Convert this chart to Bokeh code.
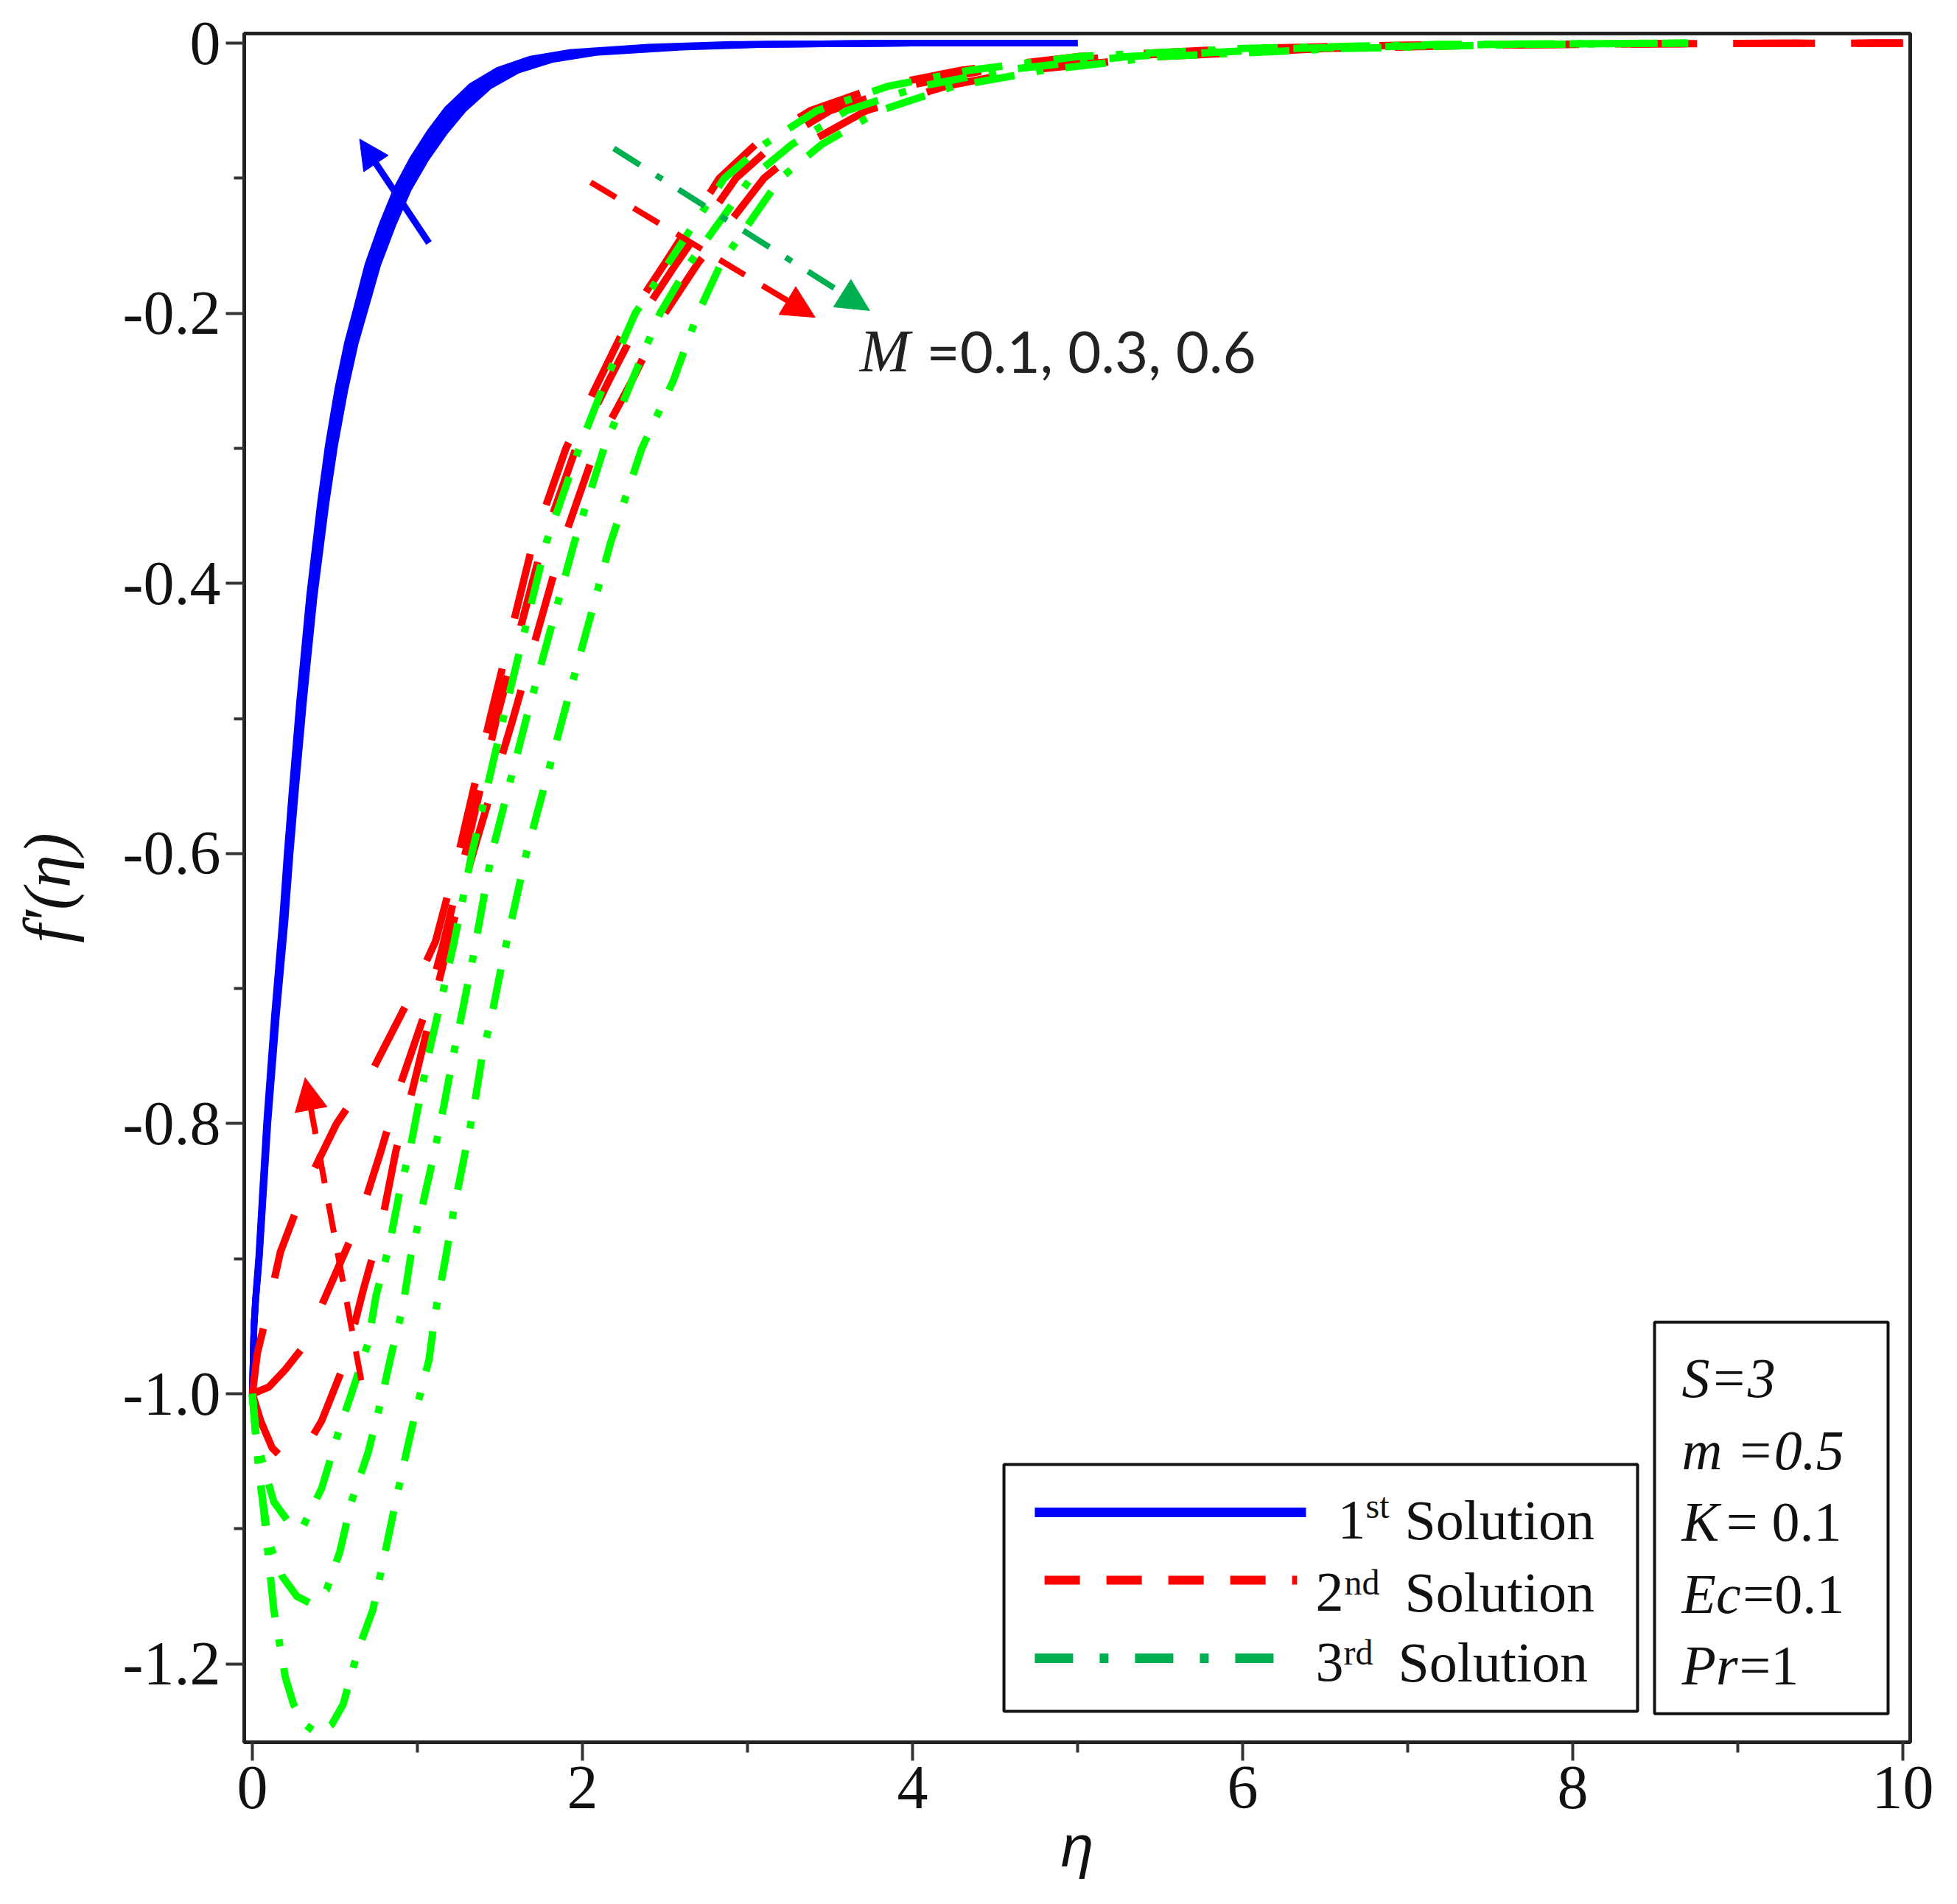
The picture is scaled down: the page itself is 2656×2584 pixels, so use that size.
import math
from bokeh.plotting import figure
from bokeh.models import (Range1d, FixedTicker, CustomJSTickFormatter, Label,
                          BoxAnnotation, Arrow, NormalHead)
from bokeh.embed import file_html
from bokeh.resources import INLINE

# ---------------- data ----------------
# 1st solution (blue), three M values
B1_x = [0, 0.005, 0.01, 0.021, 0.042, 0.068, 0.094, 0.12, 0.146, 0.172, 0.198, 0.229, 0.26, 0.312, 0.374, 0.447, 0.5, 0.562, 0.624, 0.676, 0.76, 0.853, 0.946, 1.05, 1.165, 1.28, 1.435, 1.61, 1.82, 2.08, 2.6, 3.1, 4.0, 5.0]
B2_x = [0, 0.005, 0.01, 0.02, 0.04, 0.065, 0.09, 0.115, 0.14, 0.165, 0.19, 0.22, 0.25, 0.30, 0.36, 0.43, 0.48, 0.54, 0.60, 0.65, 0.73, 0.82, 0.91, 1.01, 1.12, 1.23, 1.38, 1.55, 1.75, 2.0, 2.5, 3.0, 4.0, 5.0]
B3_x = [0, 0.005, 0.0096, 0.019, 0.038, 0.062, 0.086, 0.11, 0.134, 0.158, 0.182, 0.211, 0.24, 0.288, 0.346, 0.413, 0.461, 0.518, 0.576, 0.624, 0.70, 0.787, 0.874, 0.97, 1.075, 1.18, 1.325, 1.49, 1.68, 1.92, 2.4, 2.9, 4.0, 5.0]
B_y = [-1, -0.975, -0.95, -0.93, -0.9, -0.85, -0.8, -0.76, -0.72, -0.685, -0.65, -0.6, -0.555, -0.485, -0.41, -0.34, -0.297, -0.256, -0.222, -0.2, -0.164, -0.134, -0.108, -0.086, -0.066, -0.049, -0.032, -0.02, -0.012, -0.007, -0.003, -0.001, 0, 0]

# 2nd solution (red dashed), three M values
R1_x = [0, 0.03, 0.07, 0.17, 0.31, 0.51, 0.73, 0.94, 1.11, 1.25, 1.44, 1.70, 1.9, 2.1, 2.3, 2.5, 2.83, 3.05, 3.38, 3.8, 4.3, 5.0, 6.0, 7.0, 8.5, 10]
R1_y = [-1, -0.97, -0.95, -0.895, -0.85, -0.80, -0.76, -0.71, -0.665, -0.6, -0.5, -0.37, -0.3, -0.25, -0.2, -0.163, -0.1, -0.075, -0.05, -0.032, -0.02, -0.01, -0.004, -0.0015, -0.0004, 0]
R2_x = [0, 0.1, 0.2, 0.31, 0.49, 0.65, 0.78, 0.9, 1.04, 1.15, 1.29, 1.48, 1.76, 1.96, 2.16, 2.37, 2.57, 2.93, 3.16, 3.5, 3.95, 4.45, 5.2, 6.2, 7.2, 8.5, 10]
R2_y = [-1, -0.995, -0.982, -0.965, -0.915, -0.87, -0.82, -0.77, -0.72, -0.67, -0.6, -0.5, -0.37, -0.3, -0.25, -0.2, -0.163, -0.1, -0.075, -0.05, -0.032, -0.02, -0.01, -0.004, -0.0015, -0.0004, 0]
R3_x = [0, 0.05, 0.12, 0.2, 0.3, 0.42, 0.56, 0.67, 0.78, 0.87, 0.97, 1.1, 1.22, 1.36, 1.58, 1.88, 2.08, 2.3, 2.5, 2.7, 3.1, 3.35, 3.72, 4.2, 4.7, 5.5, 6.5, 7.5, 8.7, 10]
R3_y = [-1, -1.02, -1.04, -1.05, -1.045, -1.02, -0.977, -0.924, -0.876, -0.82, -0.775, -0.71, -0.65, -0.59, -0.5, -0.37, -0.3, -0.25, -0.2, -0.163, -0.1, -0.075, -0.05, -0.032, -0.02, -0.01, -0.004, -0.0015, -0.0004, 0]

# 3rd solution (green dash-dot), three M values
G1_x = [0, 0.02, 0.06, 0.13, 0.22, 0.3, 0.42, 0.53, 0.6, 0.70, 0.75, 0.83, 0.89, 0.96, 1.02, 1.08, 1.15, 1.22, 1.33, 1.52, 1.78, 1.98, 2.14, 2.32, 2.52, 2.86, 3.1, 3.42, 3.85, 4.35, 5.0, 6.0, 7.2, 8.7]
G1_y = [-1, -1.03, -1.05, -1.08, -1.095, -1.1, -1.07, -1.025, -1.0, -0.963, -0.927, -0.89, -0.852, -0.816, -0.778, -0.742, -0.705, -0.667, -0.6, -0.5, -0.37, -0.3, -0.25, -0.2, -0.163, -0.1, -0.075, -0.05, -0.032, -0.02, -0.01, -0.004, -0.001, 0]
G2_x = [0, 0.04, 0.1, 0.18, 0.27, 0.35, 0.45, 0.53, 0.6, 0.7, 0.78, 0.84, 0.91, 0.96, 1.03, 1.1, 1.16, 1.22, 1.28, 1.34, 1.45, 1.66, 1.95, 2.13, 2.3, 2.47, 2.65, 3.02, 3.27, 3.6, 4.05, 4.55, 5.3, 6.3, 7.5, 8.7]
G2_y = [-1, -1.06, -1.11, -1.135, -1.15, -1.155, -1.145, -1.117, -1.08, -1.044, -1.005, -0.972, -0.937, -0.898, -0.861, -0.823, -0.787, -0.748, -0.712, -0.675, -0.6, -0.5, -0.37, -0.3, -0.25, -0.2, -0.163, -0.1, -0.075, -0.05, -0.032, -0.02, -0.01, -0.004, -0.001, 0]
G3_x = [0, 0.03, 0.08, 0.13, 0.2, 0.25, 0.32, 0.4, 0.48, 0.55, 0.64, 0.73, 0.8, 0.86, 0.93, 0.99, 1.07, 1.11, 1.17, 1.22, 1.28, 1.34, 1.39, 1.46, 1.52, 1.66, 1.88, 2.17, 2.36, 2.55, 2.7, 2.84, 3.2, 3.45, 3.8, 4.25, 4.8, 5.5, 6.6, 7.7, 8.7]
G3_y = [-1, -1.04, -1.1, -1.16, -1.21, -1.23, -1.245, -1.252, -1.245, -1.23, -1.19, -1.16, -1.12, -1.085, -1.045, -1.013, -0.975, -0.939, -0.9, -0.864, -0.827, -0.79, -0.752, -0.714, -0.677, -0.6, -0.5, -0.37, -0.3, -0.25, -0.2, -0.163, -0.1, -0.075, -0.05, -0.032, -0.02, -0.01, -0.004, -0.001, 0]

# ticks
X_TICKS = [0, 2, 4, 6, 8, 10]
X_MINOR = [1, 3, 5, 7, 9]
Y_TICKS = [0, -0.2, -0.4, -0.6, -0.8, -1.0, -1.2]
Y_MINOR = [-0.1, -0.3, -0.5, -0.7, -0.9, -1.1]

# texts
X_LABEL = "η"
Y_LABEL = "f′(η)"
M_VAR = "M"
M_VALUES = "=0.1, 0.3, 0.6"
LEGEND_NUM = ["1", "2", "3"]
LEGEND_SUP = ["st", "nd", "rd"]
LEGEND_WORD = "Solution"
PAR_ITALIC = ["S=3", "m =0.5", "K", "Ec", "Pr"]
PAR_UPRIGHT = ["", "", "= 0.1", "=0.1", "=1"]

# annotation arrows (start x, start y, end x, end y)
ARROW_BLUE = (1.07, -0.148, 0.65, -0.071)
ARROW_RED_TOP = (2.05, -0.103, 3.41, -0.203)
ARROW_GREEN_TOP = (2.19, -0.078, 3.74, -0.198)
ARROW_RED_LOW = (0.66, -0.99, 0.32, -0.766)

BLUE = "#0000FF"
RED = "#FF0000"
GREEN = "#00FF00"
DGREEN = "#00B050"
SERIF = "Liberation Serif"
INK = "#111111"

# ---------------- figure ----------------
p = figure(width=2640, height=2576,
           x_range=Range1d(-0.049, 10.045), y_range=Range1d(-1.258, 0.0071),
           output_backend="svg", toolbar_location=None,
           min_border_left=331, min_border_right=48,
           min_border_top=45, min_border_bottom=212)
p.grid.visible = False
p.background_fill_color = "white"
p.border_fill_color = "white"
p.outline_line_color = "#222222"
p.outline_line_width = 5

p.xaxis.ticker = FixedTicker(ticks=X_TICKS, minor_ticks=X_MINOR)
p.yaxis.ticker = FixedTicker(ticks=Y_TICKS, minor_ticks=Y_MINOR)
p.yaxis.formatter = CustomJSTickFormatter(code="return tick == 0 ? '0' : tick.toFixed(1);")
for ax in (p.xaxis, p.yaxis):
    ax.axis_line_color = "#222222"
    ax.axis_line_width = 5
    ax.major_tick_line_color = "#333333"
    ax.minor_tick_line_color = "#333333"
    ax.major_tick_line_width = 4
    ax.minor_tick_line_width = 4
    ax.major_tick_in = 0
    ax.minor_tick_in = 0
    ax.major_tick_out = 25
    ax.minor_tick_out = 14
    ax.major_label_text_font = SERIF
    ax.major_label_text_font_size = "84px"
    ax.major_label_text_color = INK
p.xaxis.major_label_standoff = 8
p.yaxis.major_label_standoff = 7

p.xaxis.axis_label = X_LABEL
p.xaxis.axis_label_text_font = "Liberation Sans"
p.xaxis.axis_label_text_font_style = "italic"
p.xaxis.axis_label_text_font_size = "80px"
p.xaxis.axis_label_text_color = INK
p.xaxis.axis_label_standoff = 4

p.yaxis.axis_label = Y_LABEL
p.yaxis.axis_label_text_font = SERIF
p.yaxis.axis_label_text_font_style = "italic"
p.yaxis.axis_label_text_font_size = "90px"
p.yaxis.axis_label_text_color = INK
p.yaxis.axis_label_standoff = 50

# curves
for bx in (B1_x, B2_x, B3_x):
    p.line(bx, B_y, line_color=BLUE, line_width=9, line_join="round")
for rx, ry in ((R1_x, R1_y), (R2_x, R2_y), (R3_x, R3_y)):
    p.line(rx, ry, line_color=RED, line_width=10, line_dash="90 70", line_join="round")
for gx, gy in ((G1_x, G1_y), (G2_x, G2_y), (G3_x, G3_y)):
    p.line(gx, gy, line_color=GREEN, line_width=10, line_dash="55 30 10 30", line_join="round")

# arrows
def add_arrow(c, color, dash, size, lw, fill):
    p.add_layout(Arrow(x_start=c[0], y_start=c[1], x_end=c[2], y_end=c[3],
                       line_color=color, line_width=lw, line_dash=dash,
                       end=NormalHead(size=size, fill_color=fill, line_color=fill, line_width=1)))

add_arrow(ARROW_BLUE, BLUE, "solid", 40, 9, BLUE)
add_arrow(ARROW_RED_TOP, RED, "40 28", 44, 8, RED)
add_arrow(ARROW_GREEN_TOP, DGREEN, "42 26 10 26", 44, 8, DGREEN)
add_arrow(ARROW_RED_LOW, RED, "40 28", 44, 8, RED)

# M annotation
p.add_layout(Label(x=3.68, y=-0.228, text=M_VAR, text_font=SERIF, text_font_style="italic",
                   text_font_size="82px", text_color="#222222", text_baseline="alphabetic"))
p.add_layout(Label(x=4.085, y=-0.228, text=M_VALUES, text_font="Lato",
                   text_font_size="78px", text_color="#222222", text_baseline="alphabetic"))

# legend box and parameter box
p.add_layout(BoxAnnotation(left=4.554, right=8.393, top=-1.0524, bottom=-1.2351,
                           fill_color="white", fill_alpha=1.0, line_color=INK,
                           line_alpha=1.0, line_width=4))
p.add_layout(BoxAnnotation(left=8.496, right=9.911, top=-0.9471, bottom=-1.2368,
                           fill_color="white", fill_alpha=1.0, line_color=INK,
                           line_alpha=1.0, line_width=4))

# legend samples
p.add_layout(Arrow(x_start=4.741, y_start=-1.0878, x_end=6.384, y_end=-1.0878, end=None,
                   line_color=BLUE, line_width=13))
p.add_layout(Arrow(x_start=4.80, y_start=-1.138, x_end=6.33, y_end=-1.138, end=None,
                   line_color=RED, line_width=12, line_dash="48 36"))
p.add_layout(Arrow(x_start=4.741, y_start=-1.1958, x_end=6.348, y_end=-1.1958, end=None,
                   line_color=DGREEN, line_width=13, line_dash="52 36 12 36"))

num_x = [6.576, 6.442, 6.442]
sup_x = [6.746, 6.616, 6.612]
word_x = [6.982, 6.982, 6.942]
base_y = [-1.0935, -1.1472, -1.199]
sup_y = [-1.083, -1.1394, -1.1913]
for i in range(3):
    p.add_layout(Label(x=num_x[i], y=base_y[i], text=LEGEND_NUM[i], text_font=SERIF,
                       text_font_size="76px", text_color=INK, text_baseline="alphabetic"))
    p.add_layout(Label(x=sup_x[i], y=sup_y[i], text=LEGEND_SUP[i], text_font=SERIF,
                       text_font_size="48px", text_color=INK, text_baseline="alphabetic"))
    p.add_layout(Label(x=word_x[i], y=base_y[i], text=LEGEND_WORD, text_font=SERIF,
                       text_font_size="76px", text_color=INK, text_baseline="alphabetic"))

# parameter texts
par_y = [-0.9884, -1.0419, -1.0948, -1.1483, -1.2012]
up_x = [0, 0, 8.93, 9.031, 9.009]
for i in range(5):
    p.add_layout(Label(x=8.661, y=par_y[i], text=PAR_ITALIC[i], text_font=SERIF,
                       text_font_style="italic", text_font_size="76px", text_color=INK,
                       text_baseline="alphabetic"))
    if PAR_UPRIGHT[i]:
        p.add_layout(Label(x=up_x[i], y=par_y[i], text=PAR_UPRIGHT[i], text_font=SERIF,
                           text_font_size="76px", text_color=INK,
                           text_baseline="alphabetic"))

open("out.html", "w").write(file_html(p, INLINE))
